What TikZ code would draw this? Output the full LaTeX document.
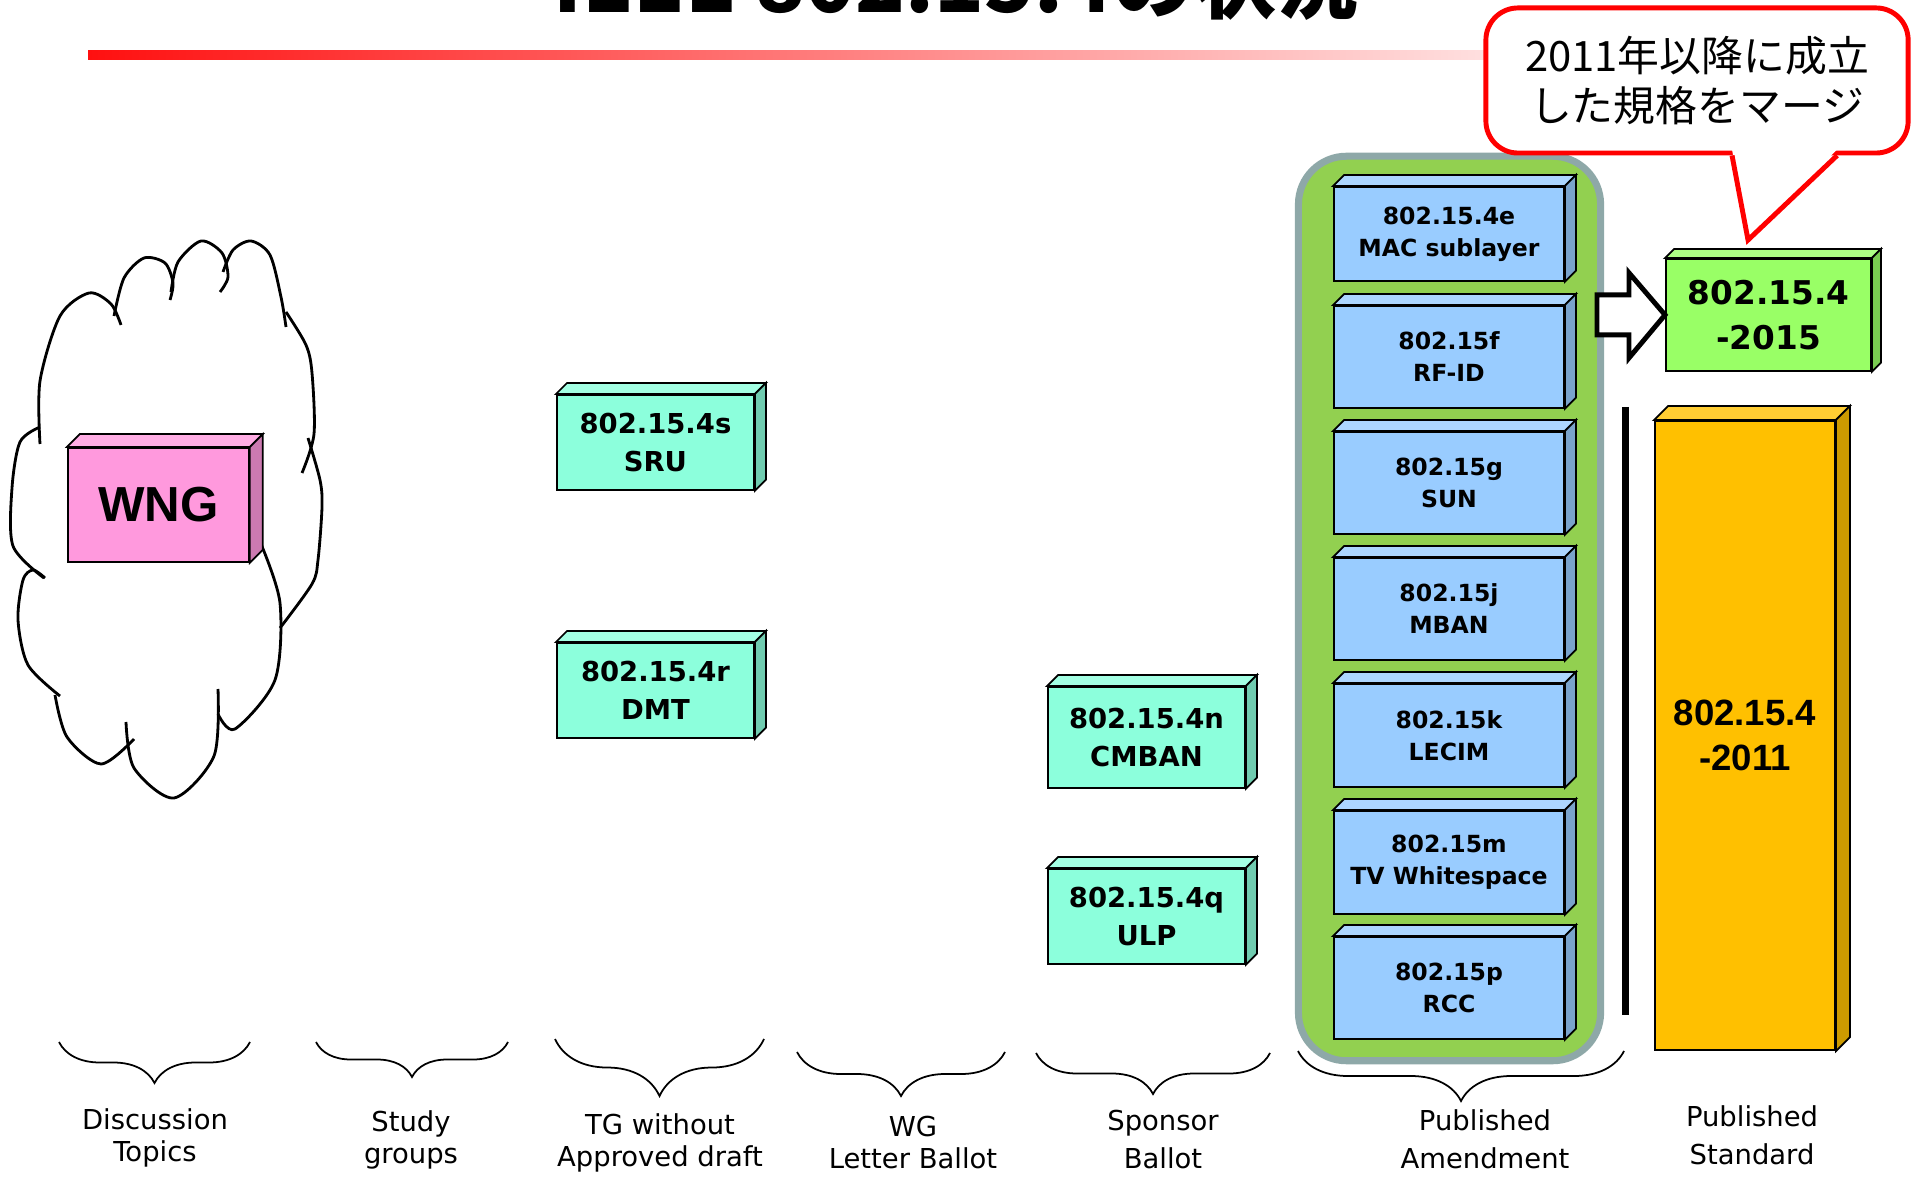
\documentclass[tikz,border=0pt]{standalone}
\usepackage{fontspec}
\setmainfont{DejaVu Sans}
\newfontfamily\arialfont{Liberation Sans}
\newfontfamily\jpfont{Noto Sans CJK JP}
\usetikzlibrary{decorations.pathreplacing}

\definecolor{barred}{HTML}{FF1010}
\definecolor{wngpink}{HTML}{FF99DD}
\definecolor{tgcyan}{HTML}{8CFFDC}
\definecolor{amdblue}{HTML}{99CCFF}
\definecolor{newgreen}{HTML}{99FF66}
\definecolor{stdorange}{HTML}{FFC000}
\definecolor{boxgreen}{HTML}{92D050}
\definecolor{boxedge}{HTML}{8EA8A8}

% top and side face of a box node: node, depth, colour
\newcommand\cubefaces[3]{%
\draw[line width=0.5pt, fill=#3!80!white] (#1.north west) -- ++(#2,-#2) -- ([shift={(#2,-#2)}]#1.north east) -- (#1.north east) -- cycle;
\draw[line width=0.5pt, fill=#3!80!black] (#1.north east) -- ([shift={(#2,-#2)}]#1.north east) -- ([shift={(#2,-#2)}]#1.south east) -- (#1.south east) -- cycle;
}

\tikzset{
  cubebox/.style={draw=black, line width=0.5pt, fill=#1, inner sep=0pt, anchor=north west, align=center},
  tgbox/.style={cubebox=tgcyan, minimum width=1.97cm, font=\fontsize{7.8}{11}\selectfont\bfseries},
  amdbox/.style={cubebox=amdblue, minimum width=2.30cm, minimum height=1.02cm, font=\fontsize{6.7}{9.1}\selectfont\bfseries},
  cloudline/.style={line width=0.8pt},
  brc/.style={decorate, line width=0.5pt},
  lbl/.style={align=center, font=\fontsize{7.8}{#1}\selectfont},
  lbl/.default=9.1,
  callbox/.style={draw=red, line width=1.4pt, fill=white, rounded corners=0.32cm, minimum width=4.22cm, minimum height=1.45cm, align=center, font=\jpfont\fontsize{11.9}{14.2}\selectfont}
}

\begin{document}
\begin{tikzpicture}[x=0.01cm, y=-0.01cm]
\useasboundingbox[fill=white] (0,0) rectangle (1913,1177);

% title
\node[anchor=base, font=\jpfont\bfseries\fontsize{23.3}{28}\selectfont] (title) at (956,13) {IEEE 802.15.4の状況};
\shade[left color=barred, right color=white] (88,51) rectangle (1700,60);

% cloud
\draw[cloudline] plot [smooth] coordinates {(40,444) (40,381) (60,316) (89,293) (111,304) (121,325)};
\draw[cloudline] plot [smooth] coordinates {(114,316) (124,278) (144,258) (165,263) (173,283) (170,300)};
\draw[cloudline] plot [smooth] coordinates {(171,292) (178,262) (201,241) (222,253) (228,277) (220,292)};
\draw[cloudline] plot [smooth] coordinates {(223,272) (233,250) (251,241) (270,255) (281,297) (286,327)};
\draw[cloudline] plot [smooth] coordinates {(286,312) (306,345) (312,373) (314,434) (302,473)};
\draw[cloudline] plot [smooth] coordinates {(308,438) (320,480) (322,507) (318,560) (312,584) (280,628)};
\draw[cloudline] plot [smooth] coordinates {(261,544) (280,603) (275,680) (235,729) (218,714)};
\draw[cloudline] plot [smooth] coordinates {(218,689) (214,756) (174,798) (134,768) (126,722)};
\draw[cloudline] plot [smooth] coordinates {(134,739) (101,764) (67,737) (55,695)};
\draw[cloudline] plot [smooth] coordinates {(60,696) (28,665) (18,620) (23,580) (33,570) (45,578)};
\draw[cloudline] plot [smooth] coordinates {(44,578) (13,546) (12,488) (20,442) (40,427)};

\node[cubebox=wngpink, minimum width=1.81cm, minimum height=1.14cm, font=\arialfont\bfseries\fontsize{14}{16}\selectfont] (wng) at (67,447) {WNG};
\cubefaces{wng}{13}{wngpink}

% task groups
\node[tgbox, minimum height=0.95cm] (sru) at (556,394) {802.15.4s\\SRU};
\cubefaces{sru}{11}{tgcyan}
\node[tgbox, minimum height=0.95cm] (dmt) at (556,642) {802.15.4r\\DMT};
\cubefaces{dmt}{11}{tgcyan}
\node[tgbox, minimum height=1.01cm] (cmban) at (1047,686) {802.15.4n\\CMBAN};
\cubefaces{cmban}{11}{tgcyan}
\node[tgbox, minimum height=0.95cm] (ulp) at (1047,868) {802.15.4q\\ULP};
\cubefaces{ulp}{11}{tgcyan}

% published amendments
\node[draw=boxedge, line width=2pt, fill=boxgreen, rounded corners=0.48cm, minimum width=3.02cm, minimum height=9.04cm] (amd) at (1449.5,608.5) {};
\node[amdbox, minimum height=0.94cm] (mac) at (1333,186) {802.15.4e\\MAC sublayer};
\cubefaces{mac}{11}{amdblue}
\node[amdbox] (rfid) at (1333,305) {802.15f\\RF-ID};
\cubefaces{rfid}{11}{amdblue}
\node[amdbox] (sun) at (1333,431) {802.15g\\SUN};
\cubefaces{sun}{11}{amdblue}
\node[amdbox] (mban) at (1333,557) {802.15j\\MBAN};
\cubefaces{mban}{11}{amdblue}
\node[amdbox, minimum height=1.03cm] (lecim) at (1333,683) {802.15k\\LECIM};
\cubefaces{lecim}{11}{amdblue}
\node[amdbox, minimum height=1.03cm] (tvws) at (1333,810) {802.15m\\TV Whitespace};
\cubefaces{tvws}{11}{amdblue}
\node[amdbox] (rcc) at (1333,936) {802.15p\\RCC};
\cubefaces{rcc}{11}{amdblue}

% standards
\node[cubebox=newgreen, minimum width=2.05cm, minimum height=1.12cm, font=\fontsize{9.3}{12.8}\selectfont\bfseries] (new) at (1665,258) {802.15.4\\-2015};
\cubefaces{new}{9}{newgreen}
\draw[line width=1.4pt, fill=white] (new.west) -- ++(-36,-42) -- ++(0,22) -- ++(-32,0) -- ++(0,40) -- ++(32,0) -- ++(0,23) -- cycle;

\draw[line width=2pt] (1625,407) -- (1625,1015);
\node[cubebox=stdorange, minimum width=1.80cm, minimum height=6.29cm, font=\arialfont\bfseries\fontsize{10.4}{12.6}\selectfont] (std) at (1654,420) {802.15.4\\-2011};
\cubefaces{std}{14}{stdorange}

% callout
\node[callbox] (note) at (1697,80.5) {2011年以降に成立\\した規格をマージ};
\coordinate (tip) at (1748,240);
\fill[white] ([xshift=0.35cm,yshift=0.06cm]note.south) -- (tip) -- ([xshift=1.40cm,yshift=0.06cm]note.south) -- cycle;
\draw[red, line width=1.4pt] ([xshift=0.35cm]note.south) -- (tip) -- ([xshift=1.40cm]note.south);

% stages
\draw[brc, decoration={brace, amplitude=0.41cm}] (250,1042) -- (59,1042);
\draw[brc, decoration={brace, amplitude=0.35cm}] (508,1042) -- (316,1042);
\draw[brc, decoration={brace, amplitude=0.57cm}] (764,1039) -- (555,1039);
\draw[brc, decoration={brace, amplitude=0.44cm}] (1005,1052) -- (797,1052);
\draw[brc, decoration={brace, amplitude=0.41cm}] (1270,1053) -- (1036,1053);
\draw[brc, decoration={brace, amplitude=0.50cm}] (1624,1051) -- (1298,1051);

\node[lbl] (disc) at (155,1138) {Discussion\\Topics};
\node[lbl] (study) at (411,1139.5) {Study\\groups};
\node[lbl] (tg) at (660,1143) {TG without\\Approved draft};
\node[lbl] (wg) at (913,1143) {WG\\Letter Ballot};
\node[lbl=10.8] (sponsor) at (1163,1140) {Sponsor\\Ballot};
\node[lbl=10.8] (pubamd) at (1485,1139) {Published\\Amendment};
\node[lbl=10.8] (pubstd) at (1752,1135) {Published\\Standard};
\end{tikzpicture}
\end{document}
